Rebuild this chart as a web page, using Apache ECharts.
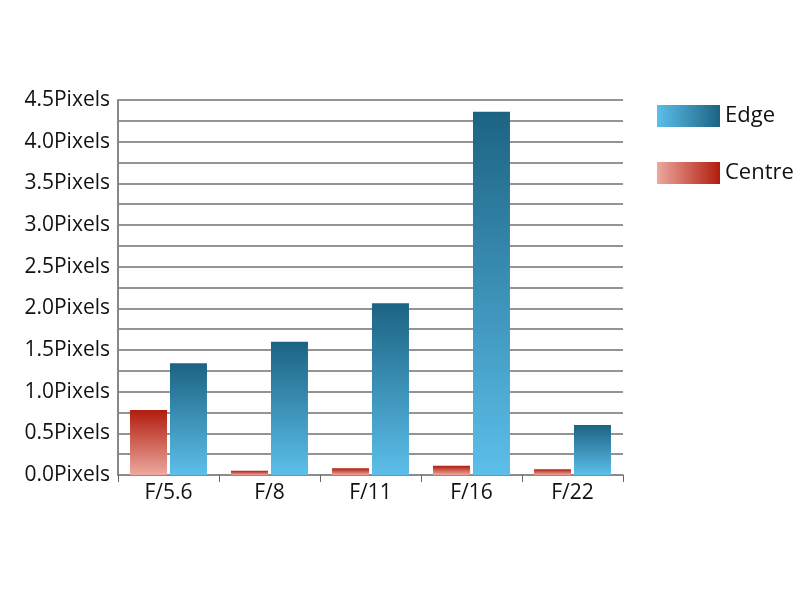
<!DOCTYPE html>
<html><head><meta charset="utf-8">
<script src="https://cdn.jsdelivr.net/npm/echarts@6/dist/echarts.min.js"></script>
<style>html,body{margin:0;padding:0;background:#fff}#c{width:800px;height:600px}</style>
</head><body><div id="c"></div>
<script>
const categories = ['F/5.6', 'F/8', 'F/11', 'F/16', 'F/22'];
const centreValues = [0.78, 0.05, 0.08, 0.11, 0.07];
const edgeValues = [1.34, 1.60, 2.06, 4.36, 0.60];
const seriesNames = ['Centre', 'Edge'];
const yUnit = 'Pixels';

const G = echarts.graphic.LinearGradient;
const edgeV = new G(0,0,0,1,[{offset:0,color:'#1c6383'},{offset:1,color:'#5cbfea'}]);
const centreV = new G(0,0,0,1,[{offset:0,color:'#b11c0d'},{offset:1,color:'#eda89f'}]);
const edgeH = new G(0,0,1,0,[{offset:0,color:'#5cbfea'},{offset:1,color:'#1c6383'}]);
const centreH = new G(0,0,1,0,[{offset:0,color:'#eda89f'},{offset:1,color:'#b11c0d'}]);
const font = 'Open Sans';
const chart = echarts.init(document.getElementById('c'), null, {renderer:'canvas'});
chart.setOption({
  animation:false,
  grid:{left:118, right:177, top:100, bottom:125},
  legend:{
    orient:'vertical', left:652, top:100, itemWidth:63, itemHeight:22, itemGap:35, icon:'rect',
    textStyle:{fontFamily:font, fontSize:22, color:'#111', padding:[0,0,0,0]},
    data:[{name:'Edge', itemStyle:{color:edgeH}},{name:'Centre', itemStyle:{color:centreH}}]
  },
  xAxis:{
    type:'category', data:categories,
    axisLine:{lineStyle:{color:'#888', width:1.5}},
    axisTick:{show:true, length:7, lineStyle:{color:'#666', width:1}},
    axisLabel:{fontFamily:font, fontSize:21, color:'#111', margin:8},
    splitLine:{show:false}
  },
  yAxis:{
    type:'value', min:0, max:4.5, interval:0.25,
    axisLine:{show:true, lineStyle:{color:'#888', width:2}},
    axisTick:{show:false},
    axisLabel:{fontFamily:font, fontSize:21, color:'#111', margin:8,
      formatter:v => (Math.round(v*100)%50===0) ? v.toFixed(1)+yUnit : ''},
    splitLine:{lineStyle:{color:'#707070', width:1.5}}
  },
  series:[
    {name:seriesNames[0], type:'bar', data:centreValues, barWidth:37, barGap:'8%', itemStyle:{color:centreV}},
    {name:seriesNames[1], type:'bar', data:edgeValues, barWidth:37, barGap:'8%', itemStyle:{color:edgeV}}
  ]
});
</script></body></html>
